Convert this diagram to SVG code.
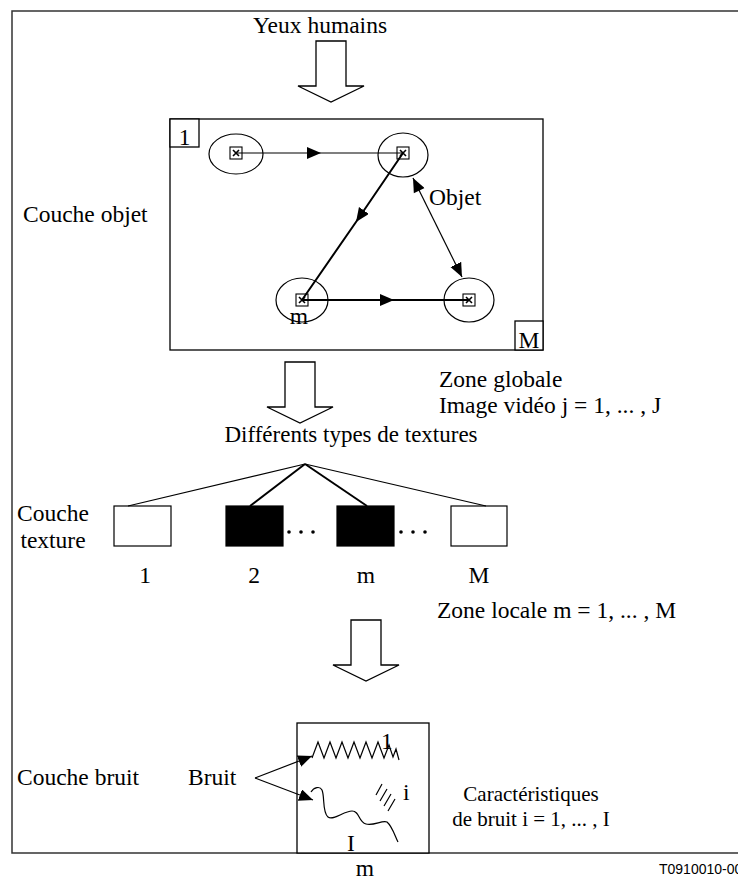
<svg xmlns="http://www.w3.org/2000/svg" width="738" height="881" viewBox="0 0 738 881">
  <style>
    text { font-family: "Liberation Serif", "Times New Roman", serif; font-size: 23.5px; fill: #000; }
    .small { font-size: 21px; }
    .code { font-family: "Liberation Sans", Arial, sans-serif; font-size: 14px; }
    .frame { fill: none; stroke: #333; stroke-width: 1.5; }
    .box { fill: #fff; stroke: #000; stroke-width: 1.3; }
    .thin { fill: none; stroke: #000; stroke-width: 1.2; }
    .thick { fill: none; stroke: #000; stroke-width: 2; }
    .bigarrow { fill: #fff; stroke: #000; stroke-width: 1.3; stroke-linejoin: miter; }
    .cell { fill: none; stroke: #000; stroke-width: 1.2; }
    .black { fill: #000; stroke: #000; stroke-width: 1.2; }
    .c { text-anchor: middle; }
  </style>
  <defs>
    <marker id="tri" markerUnits="userSpaceOnUse" markerWidth="16" markerHeight="14" refX="14" refY="6" orient="auto">
      <path d="M0,0 L14,6 L0,12 Z" fill="#000"/>
    </marker>
    <marker id="triStart" markerUnits="userSpaceOnUse" markerWidth="16" markerHeight="14" refX="0" refY="6" orient="auto">
      <path d="M14,0 L0,6 L14,12 Z" fill="#000"/>
    </marker>
    <g id="site">
      <rect x="-6" y="-6" width="12" height="12" fill="#fff" stroke="#000" stroke-width="1.1"/>
      <path d="M-3,-3 L3,3 M3,-3 L-3,3" stroke="#000" stroke-width="1.6"/>
    </g>
    <path id="downArrow" d="M-15,0 L15,0 L15,45 L33,45 L0,61 L-33,45 L-15,45 Z"/>
  </defs>

  <!-- outer frame (open on the right, running off the sheet) -->
  <path class="frame" d="M760,11 L12,11 L12,853 L760,853"/>

  <!-- eye input -->
  <g id="eyes">
    <text x="320" y="33" class="c">Yeux humains</text>
    <use href="#downArrow" class="bigarrow" x="331" y="41"/>
  </g>

  <!-- object layer -->
  <g id="object-layer">
    <text x="23" y="222">Couche objet</text>
    <rect class="box" x="170" y="119" width="373" height="231"/>
    <rect class="box" x="170" y="119" width="29" height="28"/>
    <text x="184.5" y="145" class="c">1</text>
    <rect class="box" x="515" y="321" width="28" height="29"/>
    <text x="529" y="348" class="c">M</text>
  </g>

  <g id="obj-1">
    <ellipse class="thin" cx="236" cy="154" rx="27" ry="20"/>
    <use href="#site" x="236" y="153"/>
  </g>
  <g id="obj-2">
    <ellipse class="thin" cx="403" cy="155" rx="25" ry="22"/>
    <use href="#site" x="403" y="153"/>
  </g>
  <g id="obj-m">
    <ellipse class="thin" cx="302" cy="300" rx="26" ry="22"/>
    <use href="#site" x="302" y="300"/>
    <text x="299" y="324" class="c">m</text>
  </g>
  <g id="obj-4">
    <ellipse class="thin" cx="469" cy="300" rx="25" ry="22"/>
    <use href="#site" x="469" y="300"/>
  </g>

  <g id="object-links">
    <path class="thin" d="M236,153 L321,153 L403,153" marker-mid="url(#tri)"/>
    <path class="thick" d="M403,153 L356,222 L302,300" marker-mid="url(#tri)"/>
    <path class="thick" d="M302,300 L394,300 L469,300" marker-mid="url(#tri)"/>
    <path class="thin" d="M413,178 L462,277" marker-start="url(#triStart)" marker-end="url(#tri)"/>
  </g>
  <text x="429" y="205">Objet</text>

  <!-- global zone -->
  <g id="global-zone">
    <use href="#downArrow" class="bigarrow" x="300" y="362"/>
    <text x="439" y="387">Zone globale</text>
    <text x="439" y="413">Image vidéo j = 1, ... , J</text>
  </g>

  <!-- texture layer -->
  <g id="texture-layer">
    <text x="351" y="442" class="c" style="font-size:23px">Différents types de textures</text>
    <text x="53" y="521" class="c">Couche</text>
    <text x="53" y="548" class="c">texture</text>
  </g>
  <g id="texture-links">
    <path class="thin" d="M305,464 L128,506"/>
    <path class="thick" d="M305,464 L250,506"/>
    <path class="thick" d="M305,464 L367,506"/>
    <path class="thin" d="M305,464 L486,506"/>
  </g>
  <g id="texture-1">
    <rect class="cell" x="114" y="506" width="57" height="40"/>
    <text x="145" y="583" class="c">1</text>
  </g>
  <g id="texture-2">
    <rect class="black" x="226" y="506" width="57" height="40"/>
    <text x="254" y="583" class="c">2</text>
  </g>
  <g id="texture-m">
    <rect class="black" x="337" y="506" width="57" height="40"/>
    <text x="366" y="583" class="c">m</text>
  </g>
  <g id="texture-M">
    <rect class="cell" x="451" y="506" width="56" height="40"/>
    <text x="479" y="583" class="c">M</text>
  </g>
  <g id="ellipsis" fill="#000">
    <circle cx="289" cy="532" r="1.8"/>
    <circle cx="301" cy="532" r="1.8"/>
    <circle cx="313" cy="532" r="1.8"/>
    <circle cx="401" cy="532" r="1.8"/>
    <circle cx="413" cy="532" r="1.8"/>
    <circle cx="425" cy="532" r="1.8"/>
  </g>

  <!-- local zone -->
  <g id="local-zone">
    <text x="437" y="618">Zone locale m = 1, ... , M</text>
    <use href="#downArrow" class="bigarrow" x="366" y="620"/>
  </g>

  <!-- noise layer -->
  <g id="noise-layer">
    <text x="17" y="785">Couche bruit</text>
    <text x="188" y="785">Bruit</text>
  </g>
  <g id="noise-block">
    <rect class="box" x="297" y="723" width="132" height="130"/>
    <path class="thin" d="M312,758 L318,742 L324,758 L330,742 L336,758 L342,742 L348,758 L354,742 L360,758 L366,742 L372,758 L378,742 L384,758 L389,745 L393,757 L396,749 L399,760"/>
    <text x="381" y="749">1</text>
    <path class="thin" d="M311,792 C314,787 320,786 322,790 C325,797 322,812 328,817 C333,821 344,811 352,811 C360,811 358,822 366,824 C374,826 382,820 387,822 C392,826 395,836 398,842"/>
    <path class="thin" d="M376,795 L382,784 M380,801 L387,789 M384,806 L391,794 M388,811 L395,799"/>
    <text x="403" y="800">i</text>
    <text x="351" y="851" class="c">I</text>
  </g>
  <g id="noise-links">
    <path class="thin" d="M255,778 L312,756" marker-end="url(#tri)"/>
    <path class="thin" d="M255,778 L313,800" marker-end="url(#tri)"/>
  </g>
  <g id="noise-caption">
    <text x="531" y="801" class="c small">Caractéristiques</text>
    <text x="531" y="826" class="c small">de bruit i = 1, ... , I</text>
  </g>

  <text x="365" y="876" class="c">m</text>
  <text x="659" y="874" class="code">T0910010-00</text>
</svg>
